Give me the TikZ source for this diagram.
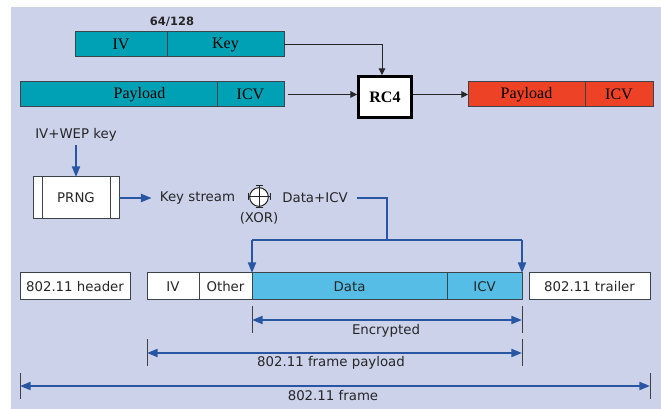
\documentclass[tikz,border=0pt]{standalone}
\usepackage{fontspec}
\setmainfont{Liberation Serif}
\newfontfamily\vsans{DejaVu Sans}
\usetikzlibrary{arrows.meta}
\definecolor{bgc}{RGB}{205,210,235}
\definecolor{tealc}{RGB}{0,161,181}
\definecolor{redc}{RGB}{238,66,38}
\definecolor{cyanc}{RGB}{86,190,230}
\definecolor{bluc}{RGB}{40,86,162}
\definecolor{edgec}{RGB}{60,68,74}

\begin{document}
\begin{tikzpicture}[x=0.75pt,y=-0.75pt,
  sz/.style 2 args={minimum width=#1*0.75pt, minimum height=#2*0.75pt, inner sep=0pt, outer sep=0pt},
  serif12/.style={font=\fontsize{12}{14}\selectfont},
  tealcell/.style={draw=edgec, line width=0.75pt, fill=tealc, serif12},
  redcell/.style={draw=edgec, line width=0.75pt, fill=redc, serif12},
  framecell/.style={draw=edgec, line width=0.75pt, fill=white, font=\vsans\fontsize{10}{12}\selectfont, text=black!85},
  enccell/.style={framecell, fill=cyanc},
  lbl/.style={font=\vsans\fontsize{10}{12}\selectfont, text=black!85, inner sep=0pt},
  blk/.style={draw=black!85, line width=0.75pt, -{Triangle[length=5pt,width=5pt]}},
  blu/.style={draw=bluc, line width=1.5pt},
  bluarr/.style={blu, -{Triangle[length=8pt,width=6pt]}},
  dim/.style={blu, {Triangle[length=8pt,width=6pt]}-{Triangle[length=8pt,width=6pt]}},
  tick/.style={draw=black!75, line width=0.75pt},
  xorline/.style={draw=black!85, line width=0.75pt},
]

% canvas
\useasboundingbox (0,0) rectangle (661,409);
\fill[white] (0,0) rectangle (661,409);
\fill[bgc] (11,7) rectangle (661,409);

% ---- RC4 encryption ----
\node[font=\vsans\bfseries\fontsize{8.6}{10}\selectfont, inner sep=0pt, text=black!85] (bits) at (172,22) {64/128};
\node[tealcell, sz={92}{25}] (kiv) at (121,44.5) {IV};
\node[tealcell, sz={117}{25}] (key) at (225.5,44.5) {Key};
\node[tealcell, sz={197}{25}] (pay) at (118.5,94.5) {};
\node[serif12, inner sep=0pt] (paytxt) at (139.5,94.5) {Payload};
\node[tealcell, sz={67}{25}] (icv) at (250.5,94.5) {ICV};

\node[draw=black, line width=2.25pt, fill=white, sz={53}{41}, outer sep=1.1pt,
      font=\bfseries\fontsize{12}{14}\selectfont] (rc4) at (385,97) {RC4};

\node[redcell, sz={117}{25}] (rpay) at (526.5,94.5) {Payload};
\node[redcell, sz={68}{25}] (ricv) at (619,94.5) {ICV};

\draw[blk] (key.east) -| ([xshift=-2.25pt]rc4.north);
\draw[blk] ([xshift=3pt]icv.east) -- (rc4.west |- icv.east);
\draw[blk] (rc4.east |- icv.east) -- (rpay.west);

% ---- keystream generation ----
\node[lbl] (wep) at (76,135) {IV+WEP key};
\node[framecell, sz={86}{42}] (prng) at (76,198) {PRNG};
\draw[edgec, line width=0.75pt] ([xshift=6.75pt]prng.north west) -- ([xshift=6.75pt]prng.south west);
\draw[edgec, line width=0.75pt] ([xshift=-6.75pt]prng.north east) -- ([xshift=-6.75pt]prng.south east);
\draw[bluarr] ([yshift=-2.5pt]wep.south) -- (prng.north);

\node[lbl] (ks) at (197.5,198) {Key stream};
\draw[bluarr] (prng.east) -- ([xshift=-6pt]ks.west);

\node[circle, draw=black!85, fill=white, line width=0.75pt, minimum size=14pt, inner sep=0pt] (xor) at (259,197) {};
\draw[xorline] (xor.center) ++(0,-11) -- ++(0,22);
\draw[xorline] (xor.center) ++(-11,0) -- ++(22,0);
\draw[xorline] (xor.center) ++(-3.5,-11) -- ++(7,0);
\draw[xorline] (xor.center) ++(-3.5,11) -- ++(7,0);
\draw[xorline] (xor.center) ++(-11,-3.5) -- ++(0,7);
\draw[xorline] (xor.center) ++(11,-3.5) -- ++(0,7);
\node[lbl] (xortxt) at (259,218) {(XOR)};
\node[lbl] (dicv) at (315,198) {Data+ICV};

% ---- WEP frame ----
\node[framecell, sz={110}{27}] (hdr) at (75,286.5) {802.11 header};
\node[framecell, sz={52}{27}] (fiv) at (173,286.5) {IV};
\node[framecell, sz={53}{27}] (oth) at (225.5,286.5) {Other};
\node[enccell, sz={195}{27}] (dat) at (349.5,286.5) {Data};
\node[enccell, sz={75}{27}] (ficv) at (484.5,286.5) {ICV};
\node[framecell, sz={121}{27}] (trl) at (589.5,286.5) {802.11 trailer};

\coordinate (split) at (387,240);
\draw[blu] ([xshift=6.75pt]dicv.east) -| (split);
\draw[blu] (dat.north west |- split) -- (ficv.north east |- split);
\draw[bluarr] (dat.north west |- split) -- (dat.north west);
\draw[bluarr] (ficv.north east |- split) -- (ficv.north east);

% dimension lines
\coordinate (yenc) at (0,320);
\coordinate (ypl) at (0,353);
\coordinate (yfr) at (0,386);

\draw[tick] (dat.south west) ++(0,6) -- ++(0,27);
\draw[tick] (ficv.south east) ++(0,6) -- ++(0,27);
\draw[dim] (dat.south west |- yenc) -- (ficv.south east |- yenc);
\node[lbl] (enc) at (386,331) {Encrypted};

\draw[tick] (fiv.south west) ++(0,39) -- ++(0,27);
\draw[tick] (ficv.south east) ++(0,39) -- ++(0,27);
\draw[dim] (fiv.south west |- ypl) -- (ficv.south east |- ypl);
\node[lbl] (fpl) at (331,363) {802.11 frame payload};

\draw[tick] (hdr.south west) ++(0,73) -- ++(0,26);
\draw[tick] (trl.south east) ++(0,73) -- ++(0,26);
\draw[dim] (hdr.south west |- yfr) -- (trl.south east |- yfr);
\node[lbl] (frm) at (333,396) {802.11 frame};

\end{tikzpicture}
\end{document}
